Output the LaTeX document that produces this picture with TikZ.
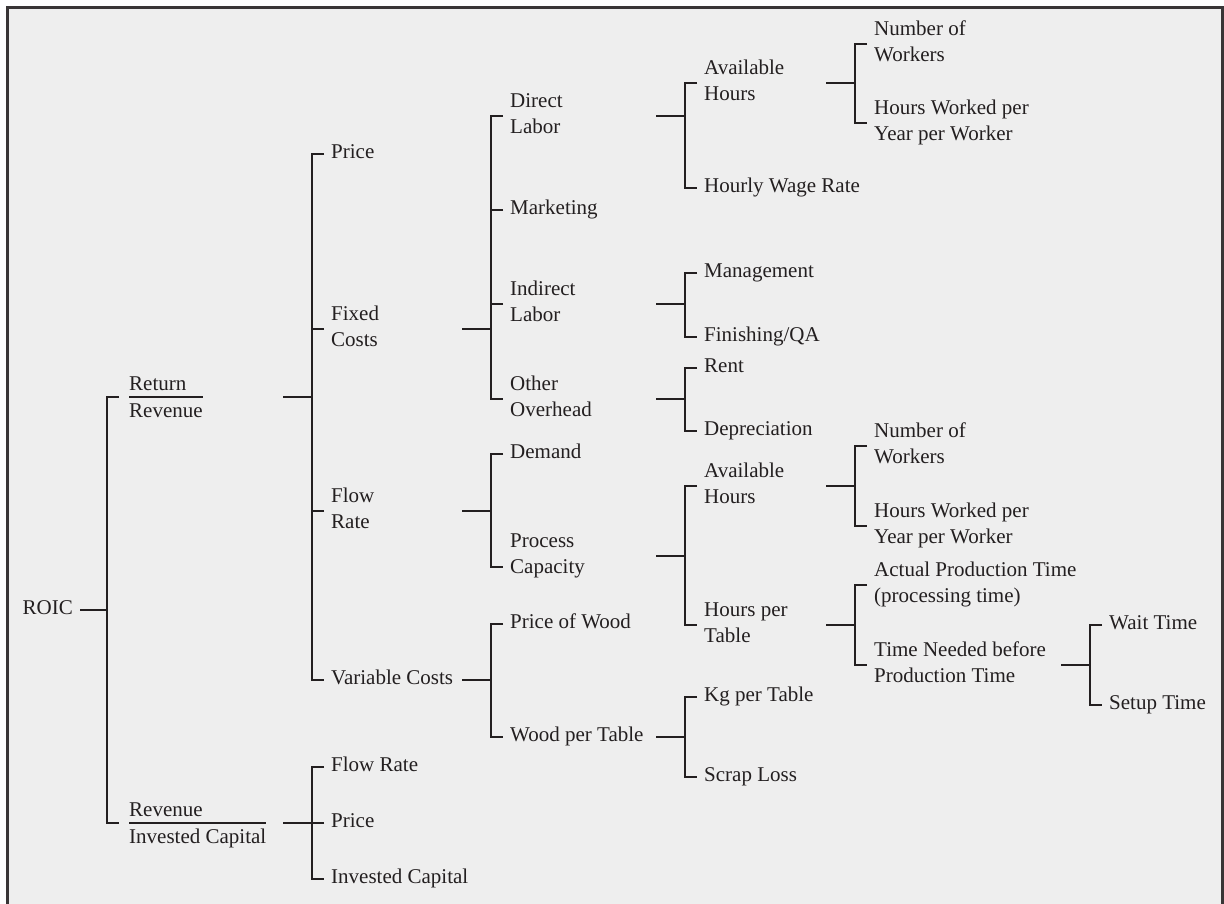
\documentclass[tikz,border=0pt]{standalone}
\usepackage{fontspec}
\setmainfont{Liberation Serif}
\definecolor{ink}{HTML}{231F20}
\definecolor{paper}{HTML}{EEEEEE}
\tikzset{
	lbl/.style = {anchor = west, inner xsep = 7pt, inner ysep = 0pt, align = left, text = ink,
		font = \fontsize{21}{26.5}\selectfont, text height = 14pt, text depth = 5pt},
	lbl2/.style = {lbl, text height = 40.5pt},
	frac/.style = {lbl2, inner xsep = 0pt, text height = 42.5pt, text depth = 2.5pt},
	wire/.style = {draw = ink, line width = 2.6pt},
}

\begin{document}
\begin{tikzpicture}[x = 1pt, y = -1pt]
		\useasboundingbox (0,0) rectangle (1224,904);
		\fill[paper] (7.5,7.5) rectangle (1222.5,920);
		\draw[line width = 2.2pt, draw = ink!90] (7.5,920) -- (7.5,7.5) -- (1222.5,7.5) -- (1222.5,920);
		% where the stubs of each column start
		\coordinate (c2) at (283,0);
		\coordinate (c3) at (462,0);
		\coordinate (c4) at (656,0);
		\coordinate (c5) at (826,0);
		\coordinate (c6) at (1061,0);
		%
		\node (roic)[lbl, anchor = east] at (80,610) {ROIC};
		\node (rr)[frac] at (129,397) {Return\\Revenue};
		\node (ric)[frac] at (129,823) {Revenue\\Invested Capital};
		%
		\node (price)[lbl] at (324,154) {Price};
		\node (fixed)[lbl2] at (324,329) {Fixed\\Costs};
		\node (flow)[lbl2] at (324,511) {Flow\\Rate};
		\node (varc)[lbl] at (324,680) {Variable Costs};
		\node (flow2)[lbl] at (324,767) {Flow Rate};
		\node (price2)[lbl] at (324,823) {Price};
		\node (inv)[lbl] at (324,879) {Invested Capital};
		%
		\node (dl)[lbl2] at (503,116) {Direct\\Labor};
		\node (mkt)[lbl] at (503,210) {Marketing};
		\node (il)[lbl2] at (503,304) {Indirect\\Labor};
		\node (oo)[lbl2] at (503,399) {Other\\Overhead};
		\node (dem)[lbl] at (503,454) {Demand};
		\node (pcap)[lbl2] at (503,556) {Process\\Capacity};
		\node (pw)[lbl] at (503,624) {Price of Wood};
		\node (wpt)[lbl] at (503,737) {Wood per Table};
		%
		\node (ah1)[lbl2] at (697,83) {Available\\Hours};
		\node (hwr)[lbl] at (697,188) {Hourly Wage Rate};
		\node (mgmt)[lbl] at (697,273) {Management};
		\node (fqa)[lbl] at (697,337) {Finishing/QA};
		\node (rent)[lbl] at (697,368) {Rent};
		\node (dep)[lbl] at (697,431) {Depreciation};
		\node (ah2)[lbl2] at (697,486) {Available\\Hours};
		\node (hpt)[lbl2] at (697,625) {Hours per\\Table};
		\node (kg)[lbl] at (697,697) {Kg per Table};
		\node (scrap)[lbl] at (697,777) {Scrap Loss};
		%
		\node (nw1)[lbl2] at (867,44) {Number of\\Workers};
		\node (hw1)[lbl2] at (867,123) {Hours Worked per\\Year per Worker};
		\node (nw2)[lbl2] at (867,446) {Number of\\Workers};
		\node (hw2)[lbl2] at (867,526) {Hours Worked per\\Year per Worker};
		\node (apt)[lbl2] at (867,585) {Actual Production Time\\(processing time)};
		\node (tnb)[lbl2] at (867,665) {Time Needed before\\Production Time};
		%
		\node (wait)[lbl] at (1102,625) {Wait Time};
		\node (setup)[lbl] at (1102,705) {Setup Time};
		%
		% fraction rules
		\draw[ink, line width = 1.3pt] (rr.west) -- (rr.east);
		\draw[ink, line width = 1.3pt] (ric.west) -- (ric.east);
		%
		\draw[wire] (roic.east) -- ++(27,0);
		\draw[wire] ([xshift = -10pt]rr.west) -- ++(-12,0) |- ([xshift = -10pt]ric.west);
		%
		\draw[wire] (rr -| c2) -- ++(29,0);
		\draw[wire] (price.west) -- ++(-12,0) |- (varc.west);
		\draw[wire] (fixed.west) -- ++(-12,0);
		\draw[wire] (flow.west) -- ++(-12,0);
		%
		\draw[wire] (ric -| c2) -- ++(29,0);
		\draw[wire] (flow2.west) -- ++(-12,0) |- (inv.west);
		\draw[wire] (price2.west) -- ++(-12,0);
		%
		\draw[wire] (fixed -| c3) -- ++(29,0);
		\draw[wire] (dl.west) -- ++(-12,0) |- (oo.west);
		\draw[wire] (mkt.west) -- ++(-12,0);
		\draw[wire] (il.west) -- ++(-12,0);
		%
		\draw[wire] (flow -| c3) -- ++(29,0);
		\draw[wire] (dem.west) -- ++(-12,0) |- ([yshift = -11pt]pcap.west);
		%
		\draw[wire] (varc -| c3) -- ++(29,0);
		\draw[wire] (pw.west) -- ++(-12,0) |- (wpt.west);
		%
		\draw[wire] (dl -| c4) -- ++(29,0);
		\draw[wire] (ah1.west) -- ++(-12,0) |- (hwr.west);
		\draw[wire] (il -| c4) -- ++(29,0);
		\draw[wire] (mgmt.west) -- ++(-12,0) |- (fqa.west);
		\draw[wire] (oo -| c4) -- ++(29,0);
		\draw[wire] (rent.west) -- ++(-12,0) |- (dep.west);
		\draw[wire] (pcap -| c4) -- ++(29,0);
		\draw[wire] (ah2.west) -- ++(-12,0) |- (hpt.west);
		\draw[wire] (wpt -| c4) -- ++(29,0);
		\draw[wire] (kg.west) -- ++(-12,0) |- (scrap.west);
		%
		\draw[wire] (ah1 -| c5) -- ++(30,0);
		\draw[wire] (nw1.west) -- ++(-12,0) |- (hw1.west);
		\draw[wire] (ah2 -| c5) -- ++(30,0);
		\draw[wire] (nw2.west) -- ++(-12,0) |- (hw2.west);
		\draw[wire] (hpt -| c5) -- ++(30,0);
		\draw[wire] (apt.west) -- ++(-12,0) |- (tnb.west);
		%
		\draw[wire] (tnb -| c6) -- ++(29,0);
		\draw[wire] (wait.west) -- ++(-12,0) |- (setup.west);
\end{tikzpicture}
\end{document}
